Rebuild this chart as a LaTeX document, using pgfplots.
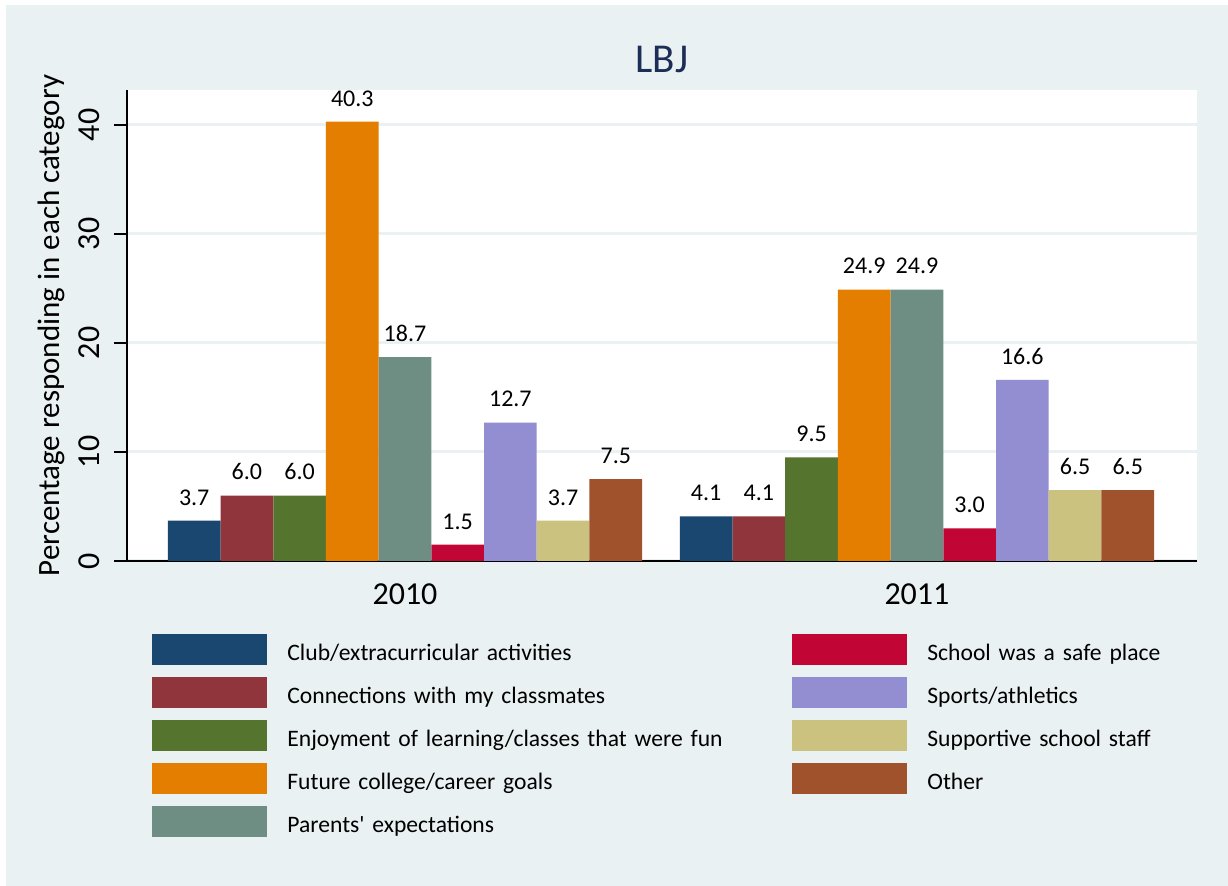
\documentclass[border=0pt]{standalone}
\usepackage{fontspec}
\setmainfont{Carlito}
\newfontfamily\plainfont{Carlito}
\usepackage{pgfplots}
\pgfplotsset{compat=1.18}

\definecolor{bg}{RGB}{234,241,243}
\definecolor{cClub}{RGB}{26,71,111}
\definecolor{cConn}{RGB}{144,53,59}
\definecolor{cEnj}{RGB}{85,117,47}
\definecolor{cFut}{RGB}{227,126,0}
\definecolor{cPar}{RGB}{110,142,132}
\definecolor{cSafe}{RGB}{193,5,52}
\definecolor{cSport}{RGB}{147,141,210}
\definecolor{cStaff}{RGB}{202,194,126}
\definecolor{cOther}{RGB}{160,82,45}
\definecolor{titlecol}{RGB}{28,45,87}

% bars sit at explicit x positions, so plot order only sets the legend order
\pgfplotsset{
  mybar/.style={ybar, bar width=0.10293, bar shift=0pt, draw=none, fill=#1,
    legend image code/.code={\fill[#1] (0pt,-2.5pt) rectangle (57.5pt,13pt);}},
}

\begin{document}
\begin{tikzpicture}
\fill[bg] (3pt,0) rectangle (614pt,440.5pt);
\begin{axis}[
  at={(63.5pt,162.5pt)}, anchor=south west,
  width=535pt, height=235.5pt, scale only axis,
  xmin=-0.543, xmax=1.547, ymin=0, ymax=43.2,
  axis background/.style={fill=white},
  axis x line*=bottom, axis y line*=left,
  axis line style={black, line width=0.9pt},
  xtick={0,1}, xticklabels={2010,2011},
  xtick style={draw=none},
  ytick={0,10,20,30,40},
  tick align=outside, major tick length=6.5pt,
  ytick style={black, line width=0.9pt},
  ymajorgrids, grid style={bg, line width=1.5pt},
  tick label style={font=\fontsize{16}{19}\selectfont},
  /pgf/number format/assume math mode=true,
  yticklabel style={xshift=-7pt, rotate=90, anchor=south, inner sep=0pt},
  xticklabel style={yshift=-4.5pt, anchor=north, inner sep=0pt},
  clip=false,
  nodes near coords={\pgfmathprintnumber[fixed,fixed zerofill,precision=1]{\pgfplotspointmeta}},
  every node near coord/.append style={font=\fontsize{12}{14}\selectfont, anchor=south, inner sep=0pt, yshift=7.5pt, black},
  legend columns=2,
  legend style={draw=none, fill=none, inner sep=0pt, at={(0.02336,-0.155)}, anchor=north west,
    row sep=6pt, font=\fontsize{11.8}{14}\selectfont,
    nodes={inner sep=1pt, anchor=base west, text width=230pt, align=left},
    /tikz/every odd column/.append style={column sep=9pt},
    /tikz/every even column/.append style={column sep=21.5pt}},
]
\addplot[mybar=cClub]  coordinates {(-0.41172,3.7) (0.58828,4.1)};
\addlegendentry{Club/extracurricular activities}
\addplot[mybar=cSafe]  coordinates {(0.10293,1.5) (1.10293,3.0)};
\addlegendentry{School was a safe place}
\addplot[mybar=cConn]  coordinates {(-0.30879,6.0) (0.69121,4.1)};
\addlegendentry{Connections with my classmates}
\addplot[mybar=cSport] coordinates {(0.20586,12.7) (1.20586,16.6)};
\addlegendentry{Sports/athletics}
\addplot[mybar=cEnj]   coordinates {(-0.20586,6.0) (0.79414,9.5)};
\addlegendentry{Enjoyment of learning/classes that were fun}
\addplot[mybar=cStaff] coordinates {(0.30879,3.7) (1.30879,6.5)};
\addlegendentry{Supportive school staff}
\addplot[mybar=cFut]   coordinates {(-0.10293,40.3) (0.89707,24.9)};
\addlegendentry{Future college/career goals}
\addplot[mybar=cOther] coordinates {(0.41172,7.5) (1.41172,6.5)};
\addlegendentry{Other}
\addplot[mybar=cPar]   coordinates {(0,18.7) (1,24.9)};
\addlegendentry{Parents{\plainfont'} expectations}
\end{axis}
\node[anchor=base, font=\fontsize{20.5}{24}\selectfont, text=titlecol] at (331pt,406.5pt) {LBJ};
\node[rotate=90, anchor=base, font=\fontsize{15.5}{18}\selectfont] at (30pt,280.25pt) {Percentage responding in each category};
\pgfresetboundingbox
\useasboundingbox (0,0) rectangle (614pt,443pt);
\end{tikzpicture}
\end{document}
